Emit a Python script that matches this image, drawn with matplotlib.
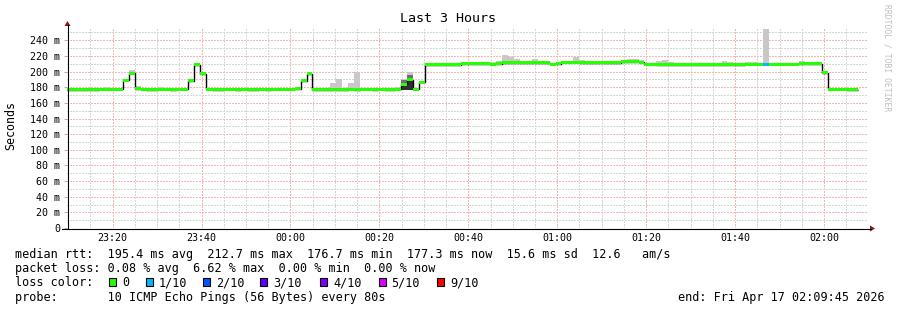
import numpy as np
import matplotlib
matplotlib.use("Agg")
import matplotlib.pyplot as plt
from matplotlib.patches import Rectangle, Polygon
from matplotlib.lines import Line2D

W, H = 897, 310
MONO = "DejaVu Sans Mono"

# time axis: minutes after 23:00, one RRD step = 80 s
STEP = 80 / 60
T0 = 8.95
X_MIN, X_MAX = 9.75, 189.75

# median rtt per step (ms)
median = [
    177, 177, 177, 176.5, 177, 176.5, 177.5, 177.5, 177.5, 177.5,
    189, 198, 178, 177.5, 177, 177, 177.5, 177.5, 177, 177.5,
    177.5, 188, 209, 197.5, 177.5, 177, 177, 177.5, 177.5, 177,
    177.5, 177, 176.5, 177.5, 177, 177.5, 177.5, 177.5, 177.5, 178,
    188, 197, 177, 177, 177, 177, 177, 176.5, 177.5, 177,
    177.5, 177.5, 177, 177.5, 177, 177, 177.5, 183.5, 189.5, 177.5,
    186.5, 209, 208.5, 208.5, 209, 209, 209, 210, 210, 210,
    210, 210, 209.5, 210, 211, 211, 211, 211, 211.5, 211.5,
    211.5, 211, 209.5, 210, 212, 212, 212, 211.5, 211.5, 211.5,
    211.5, 211.5, 211, 211, 212.5, 212.5, 212.5, 212, 209.5, 209.5,
    209, 209, 209, 209, 209, 208.5, 209, 209, 208.5, 209,
    209, 209, 208.5, 209, 209, 209.5, 209.5, 209.5, 209.5, 209.5,
    209.5, 209.5, 209.5, 209.5, 210, 210, 210, 210, 198.5, 177.5,
    177.5, 177.5, 177, 177,
]

# slowest ping per step (top of smoke)
rtt_hi = [
    178.5, 178, 178.5, 178, 178.5, 178, 179.5, 180, 179.5, 179,
    191, 201.5, 181, 179, 178.5, 178.5, 180.5, 179, 178.5, 179.5,
    179, 190, 210.5, 199, 179, 178.5, 179.5, 179.5, 179.5, 178.5,
    179, 178.5, 178.5, 179, 178.5, 179, 179, 179, 179, 179.5,
    189.5, 198.5, 178.5, 178.5, 178.5, 185.5, 190, 178, 186, 199.5,
    179, 179, 178.5, 179, 178.5, 178.5, 180, 190, 199.5, 179,
    188, 210.5, 210, 210, 210.5, 210.5, 211, 212, 211.5, 211.5,
    211.5, 211.5, 212, 213, 221, 218.5, 215.5, 212.5, 213, 216.5,
    213, 212.5, 211, 211.5, 213.5, 213.5, 218.5, 215, 213.5, 213,
    213, 213, 212.5, 212.5, 214, 216.5, 215.5, 214.5, 211, 211,
    213.5, 214.5, 212, 210.5, 210.5, 210, 210.5, 210.5, 210, 210.5,
    211, 213, 212, 210.5, 210.5, 212.5, 212.5, 211.5, 255, 211,
    210.5, 210.5, 211, 211, 213, 211.5, 211.5, 211.5, 200, 179.5,
    179.5, 179, 178.5, 178.5,
]

# fastest ping per step (bottom of smoke)
rtt_lo = [
    176, 176, 176, 175.5, 176, 175.5, 176.5, 176.5, 176.5, 176.5,
    188, 197, 177, 176.5, 175.5, 176, 176.5, 176.5, 176, 176.5,
    176.5, 187, 208, 196.5, 176.5, 176, 176, 176.5, 176.5, 176,
    176.5, 176, 175.5, 176.5, 176, 176.5, 176.5, 176.5, 176.5, 177,
    187, 196, 175.5, 176, 176, 176, 176, 175.5, 176.5, 175.5,
    176.5, 176.5, 176, 176.5, 176, 176, 176.5, 176, 176, 176.5,
    185.5, 208, 207.5, 207.5, 208, 208, 208, 209, 209, 209,
    209, 209, 208.5, 209, 210, 210, 210, 210, 210.5, 210.5,
    210.5, 210, 208.5, 209, 211, 211, 211, 210.5, 210.5, 210.5,
    210.5, 210.5, 210, 210, 211.5, 211.5, 211.5, 211, 208.5, 208.5,
    208, 208, 208, 208, 208, 207.5, 208, 208, 207.5, 208,
    208, 208, 207.5, 208, 208, 208.5, 208.5, 208.5, 208.5, 207,
    207, 207.5, 208.5, 208.5, 209, 209, 209, 209, 197.5, 176.5,
    176.5, 176.5, 176, 176,
]

# denser inner smoke where the pings spread out
mid_steps = [57, 58]
mid_lo = [176, 176]
mid_hi = [189, 196]
dark_steps = [57, 58]
dark_lo = [177, 177]
dark_hi = [186, 191]

# steps with packet loss (in tenths)
loss_steps = [118]
loss_tenths = [1]

loss_keys = [0, 1, 2, 3, 4, 5, 9]
loss_colors = ["#26ff00", "#00b8ff", "#0059ff", "#5e00ff", "#7e00ff", "#dd00ff", "#ff0000"]
loss_labels = ["0", "1/10", "2/10", "3/10", "4/10", "5/10", "9/10"]

xtick_pos = [20, 40, 60, 80, 100, 120, 140, 160, 180]
xtick_labels = ["23:20", "23:40", "00:00", "00:20", "00:40", "01:00", "01:20", "01:40", "02:00"]
ytick_pos = [0, 20, 40, 60, 80, 100, 120, 140, 160, 180, 200, 220, 240]
ytick_labels = ["0", "20 m", "40 m", "60 m", "80 m", "100 m", "120 m", "140 m",
                "160 m", "180 m", "200 m", "220 m", "240 m"]

legend_rows = [
    "median rtt:  195.4 ms avg  212.7 ms max  176.7 ms min  177.3 ms now  15.6 ms sd  12.6   am/s",
    "packet loss: 0.08 % avg  6.62 % max  0.00 % min  0.00 % now",
    "loss color:",
    "probe:       10 ICMP Echo Pings (56 Bytes) every 80s",
]
end_text = "end: Fri Apr 17 02:09:45 2026"


def fx(px):
    return px / W


def fy(py):
    return 1 - py / H


fig = plt.figure(figsize=(W / 100, H / 100), dpi=100)
fig.patch.set_facecolor("white")

ax = fig.add_axes([fx(67), fy(228), 800.4 / W, 201 / H])
ax.set_xlim(X_MIN, X_MAX)
ax.set_ylim(0, 257)
for s in ax.spines.values():
    s.set_visible(False)

# grid: gray minor, red major, both dotted
dots = (0, (1.4, 1.4))
grid_kw = dict(lw=0.72, ls=dots, zorder=0, antialiased=False)
for m in np.arange(10, 190, 5):
    if m % 20:
        ax.axvline(m, color="#d6d6d6", **grid_kw)
for m in xtick_pos:
    ax.axvline(m, color="#f7b4b4", **grid_kw)
for v in range(10, 260, 20):
    ax.axhline(v, color="#d6d6d6", **grid_kw)
for v in ytick_pos[1:]:
    ax.axhline(v, color="#f7b4b4", **grid_kw)

n = len(median)
edges = T0 + STEP * np.arange(n + 1)
med = np.array(median)
hi = np.array(rtt_hi)
lo = np.array(rtt_lo)

# smoke
ax.bar(edges[:-1], hi - lo, bottom=lo, width=STEP, align="edge",
       color="#c8c8c8", lw=0, antialiased=False, zorder=2)
ax.bar(edges[mid_steps], np.array(mid_hi) - np.array(mid_lo), bottom=mid_lo, width=STEP,
       align="edge", color="#6e6e6e", lw=0, antialiased=False, zorder=3)
ax.bar(edges[dark_steps], np.array(dark_hi) - np.array(dark_lo), bottom=dark_lo, width=STEP,
       align="edge", color="#303030", lw=0, antialiased=False, zorder=3)

# median line
ax.stairs(med, edges, color="black", lw=1.0, baseline=None, zorder=4)

# loss coloured band around the median
band_colors = [loss_colors[0]] * n
for s, l in zip(loss_steps, loss_tenths):
    band_colors[s] = loss_colors[loss_keys.index(l)]
ax.bar(edges[:-1], 3.8, bottom=med - 1.9, width=STEP, align="edge",
       color=band_colors, lw=0, antialiased=False, zorder=5)

ax.set_xticks(xtick_pos, xtick_labels)
ax.set_yticks(ytick_pos, ytick_labels)
ax.tick_params(axis="x", length=0, pad=3.8, labelsize=7.2)
ax.tick_params(axis="y", length=2.2, width=0.72, color="#b0b0b0", pad=2.9, labelsize=7.2)
for lab in ax.get_xticklabels() + ax.get_yticklabels():
    lab.set_family(MONO)

# axes with arrows
fig.add_artist(Line2D([fx(62), fx(871)], [fy(228.5), fy(228.5)], color="black", lw=0.8))
fig.add_artist(Line2D([fx(67.5), fx(67.5)], [fy(229), fy(25)], color="black", lw=0.8))
arrow_col = "#8b1414"
fig.add_artist(Polygon([[fx(64.5), fy(26)], [fx(70.5), fy(26)], [fx(67.5), fy(21)]],
                       closed=True, color=arrow_col, lw=0))
fig.add_artist(Polygon([[fx(870), fy(225.5)], [fx(870), fy(231.5)], [fx(875), fy(228.5)]],
                       closed=True, color=arrow_col, lw=0))

# titles
fig.text(fx(448), fy(19), "Last 3 Hours", ha="center", va="center", family=MONO, size=9.6)
fig.text(fx(11), fy(126), "Seconds", rotation=90, ha="center", va="center", family=MONO, size=8.4)
fig.text(fx(887), fy(4), "RRDTOOL / TOBI OETIKER", rotation=270, ha="center", va="top",
         family=MONO, size=5.8, color="#c0c0c0")

# legend block
baselines = [258, 272, 286, 300.5]
for row, b in zip(legend_rows, baselines):
    fig.text(fx(15), fy(b), row, ha="left", va="baseline", family=MONO, size=8.5)
fig.text(fx(885), fy(baselines[3]), end_text, ha="right", va="baseline", family=MONO, size=8.5)

box_x = [109, 146, 203, 260, 320, 378.5, 437]
for bx, col, lab in zip(box_x, loss_colors, loss_labels):
    fig.add_artist(Rectangle((fx(bx), fy(286)), 7 / W, 8 / H, facecolor=col,
                             edgecolor="black", lw=0.8))
    fig.text(fx(bx + 13), fy(baselines[2]), lab, ha="left", va="baseline", family=MONO, size=8.5)

fig.savefig("out.png", dpi=100)
